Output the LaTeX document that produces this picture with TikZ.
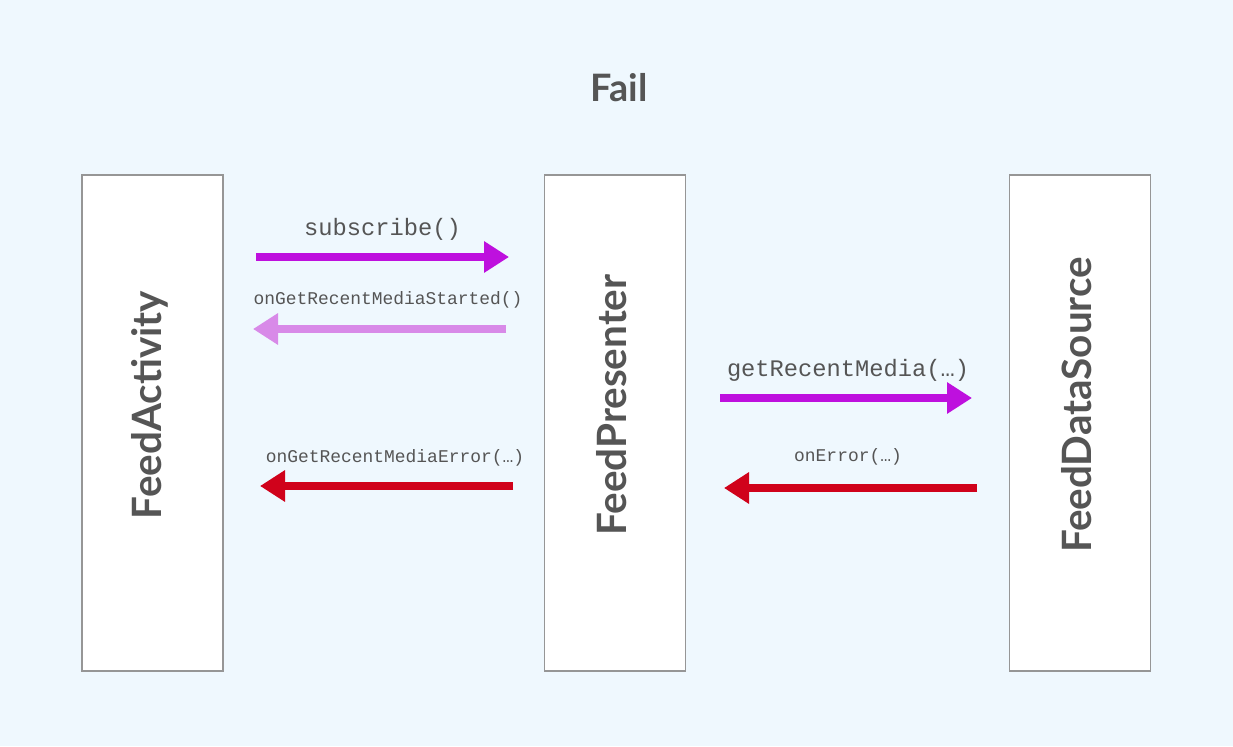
\documentclass[tikz,border=0pt]{standalone}
\usepackage{fontspec}
\setmainfont{Lato}
\setmonofont{Liberation Mono}
\usetikzlibrary{positioning,arrows.meta}
\definecolor{mybg}{RGB}{239,248,254}
\definecolor{mygray}{RGB}{85,85,85}
\definecolor{myedge}{RGB}{150,150,150}
\definecolor{mypurple}{RGB}{190,16,222}
\definecolor{mylilac}{RGB}{216,138,232}
\definecolor{myred}{RGB}{208,2,27}

\begin{document}
\begin{tikzpicture}[x=1cm,y=1cm,
  layer/.style={draw=myedge,fill=white,line width=0.6pt,minimum width=2.82cm,minimum height=9.92cm,inner sep=0pt},
  layername/.style={rotate=90,text=mygray,font=\fontsize{23}{26}\selectfont\bfseries},
  call/.style={line width=4.5pt,-{Triangle[length=0.5cm,width=0.6cm]}},
  biglabel/.style={text=mygray,font=\ttfamily\fontsize{13.5}{15}\selectfont},
  smalllabel/.style={text=mygray,font=\ttfamily\fontsize{10.2}{12}\selectfont}]

  \fill[mybg] (0,0) rectangle (24.66,14.92);
  \useasboundingbox (0,0) rectangle (24.66,14.92);

  \node[text=mygray,font=\fontsize{21.5}{24}\selectfont\bfseries] (title) at (12.38,13.16) {Fail};

  % the three layers
  \node[layer] (activity) at (3.05,6.46) {};
  \node[layer,right=6.40cm of activity] (presenter) {};
  \node[layer,right=6.46cm of presenter] (source) {};

  \node[layername] (activityname) at ([xshift=-0.05cm,yshift=0.36cm]activity.center) {FeedActivity};
  \node[layername] (presentername) at ([xshift=-0.05cm,yshift=0.36cm]presenter.center) {FeedPresenter};
  \node[layername] (sourcename) at ([xshift=-0.05cm,yshift=0.36cm]source.center) {FeedDataSource};

  % arrow ends
  \coordinate (a1) at (5.12,9.78);
  \coordinate (b1) at (10.18,9.78);
  \coordinate (a2) at (10.12,8.34);
  \coordinate (b2) at (5.06,8.34);
  \coordinate (a3) at (14.40,6.96);
  \coordinate (b3) at (19.44,6.96);
  \coordinate (a4) at (10.26,5.20);
  \coordinate (b4) at (5.20,5.20);
  \coordinate (a5) at (19.54,5.16);
  \coordinate (b5) at (14.48,5.16);

  % draw calls between activity and presenter
  \draw[call,mypurple] (a1) -- (b1) node[biglabel,midway,yshift=0.56cm] (l1) {subscribe()};
  \draw[call,mylilac] (a2) -- (b2) node[smalllabel,midway,xshift=0.17cm,yshift=0.58cm] (l2) {onGetRecentMediaStarted()};
  \draw[call,myred] (a4) -- (b4) node[smalllabel,midway,xshift=0.17cm,yshift=0.56cm] (l4) {onGetRecentMediaError(…)};

  % draw calls between presenter and data source
  \draw[call,mypurple] (a3) -- (b3) node[biglabel,midway,xshift=0.04cm,yshift=0.56cm] (l3) {getRecentMedia(…)};
  \draw[call,myred] (a5) -- (b5) node[smalllabel,midway,xshift=-0.05cm,yshift=0.62cm] (l5) {onError(…)};

\end{tikzpicture}
\end{document}
